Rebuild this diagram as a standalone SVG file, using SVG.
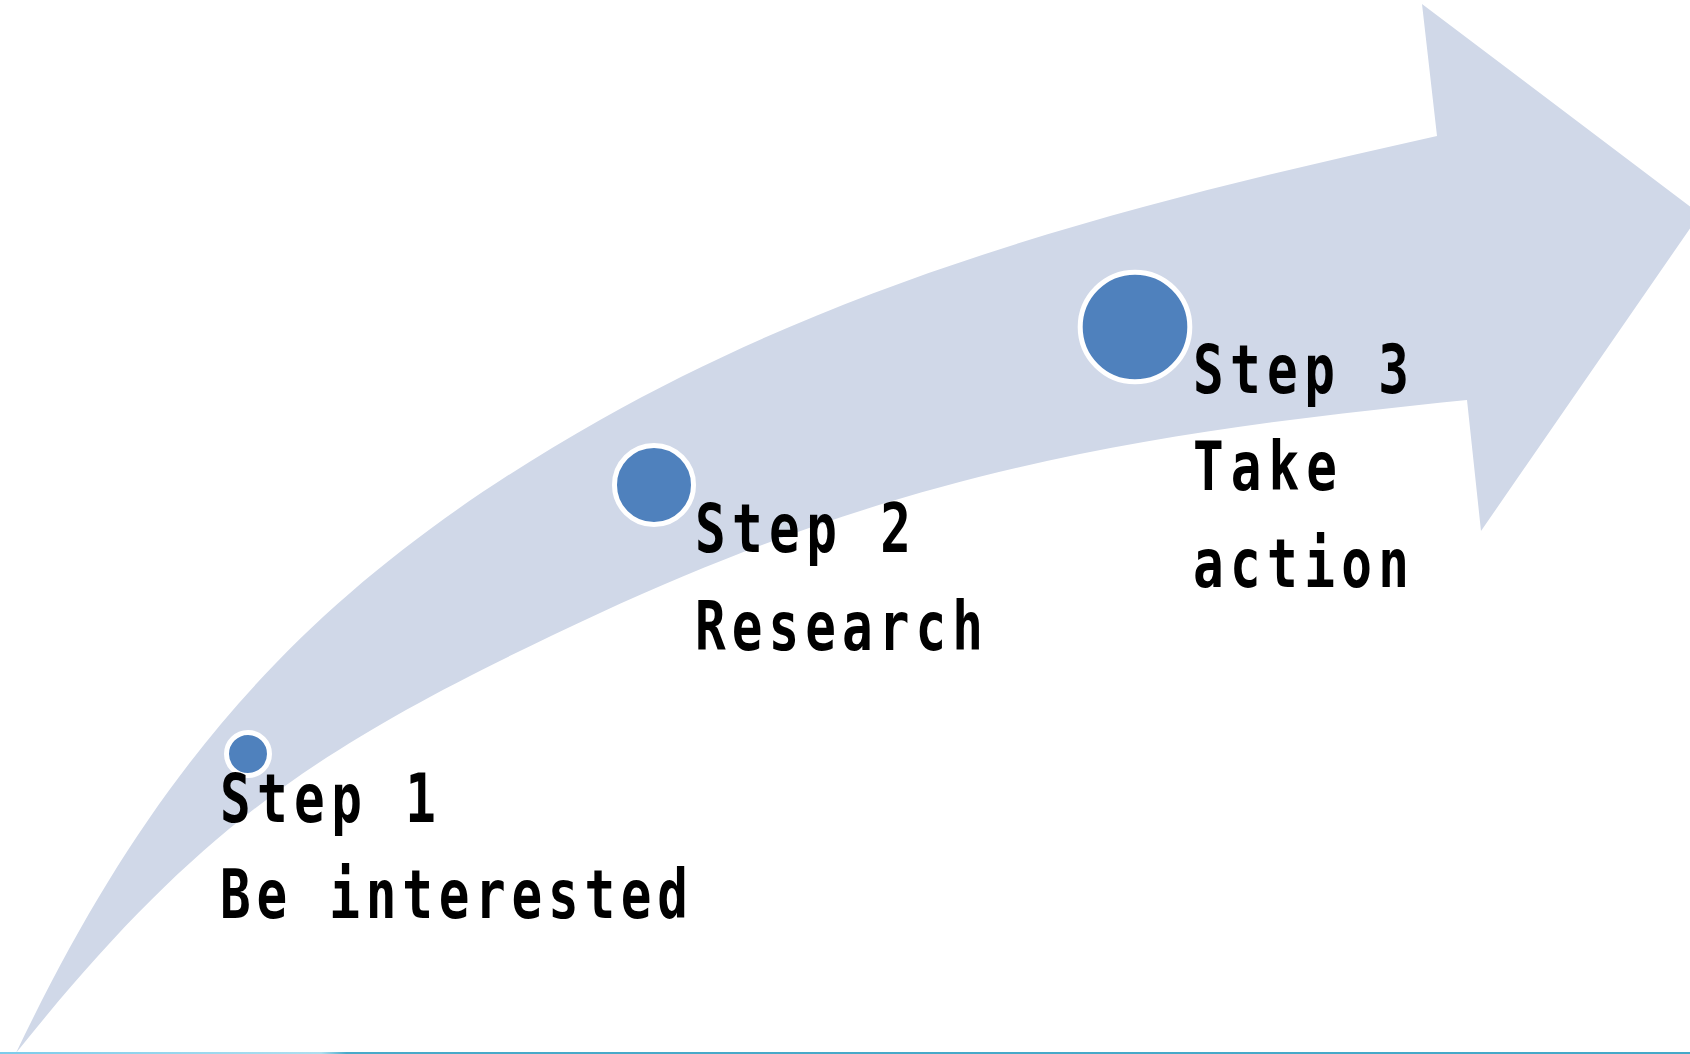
<svg xmlns="http://www.w3.org/2000/svg" width="1690" height="1054" viewBox="0 0 1690 1054">
  <defs>
    <linearGradient id="baseLine" x1="0" y1="0" x2="1690" y2="0" gradientUnits="userSpaceOnUse">
      <stop offset="0" stop-color="#7ccbea"/>
      <stop offset="0.19" stop-color="#aedff0"/>
      <stop offset="0.205" stop-color="#49a9c9"/>
      <stop offset="1" stop-color="#45a8c8"/>
    </linearGradient>
  </defs>
  <style>
    .band { fill: #d0d8e8; }
    .dot { fill: #4f81bd; stroke: #ffffff; stroke-width: 5; }
    .lbl { font-family: "DejaVu Sans Mono", "Liberation Mono", monospace; font-weight: bold; font-size: 68px; fill: #000000; }
  </style>
  <rect x="0" y="0" width="1690" height="1054" fill="#ffffff"/>
  <g id="arrow">
    <path class="band" d="M16,1053 C156.8,757.5 316.9,579.9 600,420 C861.3,272.4 1144.2,201.1 1437,136 L1422,4 L1700,214 L1481,531 L1467,400 C1168.5,430.3 917.5,465.3 600,613 C327.9,739.6 205.4,816.6 16,1053 Z"/>
  </g>
  <rect x="0" y="1052" width="1690" height="2" fill="url(#baseLine)"/>
  <g id="connectors"/>
  <g id="step1">
    <circle class="dot" cx="248" cy="754" r="21.5"/>
    <g transform="translate(220,0) scale(0.75,1)">
      <text class="lbl" x="0" y="822" textLength="288" lengthAdjust="spacing">Step 1</text>
      <text class="lbl" x="0" y="918" textLength="624" lengthAdjust="spacing">Be interested</text>
    </g>
  </g>
  <g id="step2">
    <circle class="dot" cx="654" cy="485" r="39.5"/>
    <g transform="translate(695,0) scale(0.75,1)">
      <text class="lbl" x="0" y="552" textLength="288" lengthAdjust="spacing">Step 2</text>
      <text class="lbl" x="0" y="650" textLength="384" lengthAdjust="spacing">Research</text>
    </g>
  </g>
  <g id="step3">
    <circle class="dot" cx="1135" cy="327" r="54.8"/>
    <g transform="translate(1193,0) scale(0.75,1)">
      <text class="lbl" x="0" y="393" textLength="288" lengthAdjust="spacing">Step 3</text>
      <text class="lbl" x="0" y="490" textLength="192" lengthAdjust="spacing">Take</text>
      <text class="lbl" x="0" y="587" textLength="288" lengthAdjust="spacing">action</text>
    </g>
  </g>
</svg>
